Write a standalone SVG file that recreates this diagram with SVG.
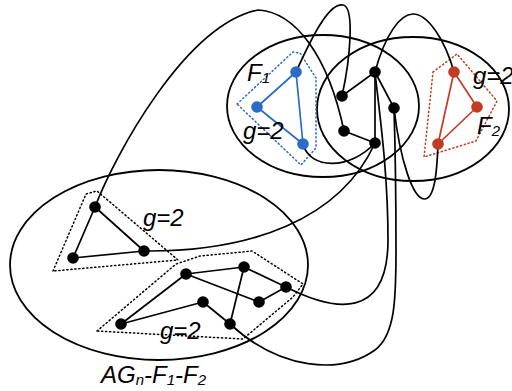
<svg xmlns="http://www.w3.org/2000/svg" width="512" height="391" viewBox="0 0 512 391">
<style>
.region{fill:none;stroke:#000;stroke-width:1.8}
.edge{fill:none;stroke:#000;stroke-width:1.7}
.bedge{fill:none;stroke:#2b6cc4;stroke-width:1.7}
.redge{fill:none;stroke:#c23b22;stroke-width:1.7}
.hull{fill:none;stroke:#000;stroke-width:1.5;stroke-dasharray:1.2 2.8;stroke-linecap:round}
.bhull{fill:none;stroke:#2b6cc4;stroke-width:1.5;stroke-dasharray:1.2 2.8;stroke-linecap:round}
.rhull{fill:none;stroke:#c23b22;stroke-width:1.5;stroke-dasharray:1.2 2.8;stroke-linecap:round}
.n{fill:#000}
.nb{fill:#2b6cc4}
.nr{fill:#c23b22}
.lbl{font-family:"Liberation Sans",Arial,sans-serif;font-style:italic;font-size:24px;fill:#000}
.sub{font-size:15px}
</style>
<rect width="512" height="391" fill="#fff"/>
<g id="regions">
<ellipse id="region-F1" class="region" cx="323" cy="106" rx="96" ry="71"/>
<ellipse id="region-F2" class="region" cx="413" cy="109" rx="96" ry="72"/>
<ellipse id="region-AG" class="region" cx="159" cy="265" rx="149" ry="95"/>
</g>
<g id="hulls">
<polygon class="bhull" points="237,104 293,52 300,53 316,78 316,148 301,165"/>
<polygon class="rhull" points="433,72 457,54 497,101 476,141 424,157"/>
<polygon class="hull" points="53,271 86,194 97,191 178,260"/>
<polygon class="hull" points="97,331 176,264 200,256 252,251 303,284 293,297 243,339"/>
</g>
<g id="connectors">
<line class="bedge" x1="296" y1="72" x2="257" y2="107"/>
<line class="bedge" x1="257" y1="107" x2="303" y2="144"/>
<line class="bedge" x1="296" y1="72" x2="303" y2="144"/>
<line class="redge" x1="454" y1="72" x2="477" y2="107"/>
<line class="redge" x1="477" y1="107" x2="438" y2="144"/>
<line class="redge" x1="454" y1="72" x2="438" y2="144"/>
<line class="edge" x1="375" y1="72" x2="342" y2="96"/>
<line class="edge" x1="375" y1="72" x2="394" y2="108"/>
<line class="edge" x1="375" y1="72" x2="375" y2="143"/>
<line class="edge" x1="344" y1="131" x2="375" y2="143"/>
<line class="edge" x1="95" y1="207" x2="73" y2="258"/>
<line class="edge" x1="95" y1="207" x2="144" y2="251"/>
<line class="edge" x1="73" y1="258" x2="144" y2="251"/>
<line class="edge" x1="121" y1="324" x2="186" y2="274"/>
<line class="edge" x1="186" y1="274" x2="244" y2="267"/>
<line class="edge" x1="244" y1="267" x2="286" y2="287"/>
<line class="edge" x1="286" y1="287" x2="259" y2="302"/>
<line class="edge" x1="259" y1="302" x2="186" y2="274"/>
<line class="edge" x1="121" y1="324" x2="203" y2="302"/>
<line class="edge" x1="203" y1="302" x2="230" y2="324"/>
<line class="edge" x1="230" y1="324" x2="244" y2="267"/>
<path class="edge" d="M95,207 C115,155 185,25 258,10 C295,12 328,55 344,131"/>
<path class="edge" d="M296,72 C315,30 330,3 343,5 C355,7 350,60 342,96"/>
<path class="edge" d="M375,72 C385,35 400,14 413,14 C428,14 445,40 454,72"/>
<path class="edge" d="M394,108 C400,160 413,200 425,199 C435,198 437,170 438,144"/>
<path class="edge" d="M303,144 C310,170 350,170 375,143"/>
<path class="edge" d="M144,251 C250,252 340,220 375,143"/>
<path class="edge" d="M286,287 C335,312 388,320 388,240 C388,170 379,110 375,72"/>
<path class="edge" d="M230,324 C280,370 340,375 375,350 C395,335 396,300 396,250 C396,190 395,140 394,108"/>
</g>
<g id="node-f1a"><circle class="nb" cx="296" cy="72" r="5.8"/></g>
<g id="node-f1b"><circle class="nb" cx="257" cy="107" r="5.8"/></g>
<g id="node-f1c"><circle class="nb" cx="303" cy="144" r="5.8"/></g>
<g id="node-f2a"><circle class="nr" cx="454" cy="72" r="5.8"/></g>
<g id="node-f2b"><circle class="nr" cx="477" cy="107" r="5.8"/></g>
<g id="node-f2c"><circle class="nr" cx="438" cy="144" r="5.8"/></g>
<g id="node-a"><circle class="n" cx="375" cy="72" r="5.8"/></g>
<g id="node-b"><circle class="n" cx="342" cy="96" r="5.8"/></g>
<g id="node-c"><circle class="n" cx="394" cy="108" r="5.8"/></g>
<g id="node-d"><circle class="n" cx="344" cy="131" r="5.8"/></g>
<g id="node-e"><circle class="n" cx="375" cy="143" r="5.8"/></g>
<g id="node-n1"><circle class="n" cx="95" cy="207" r="5.8"/></g>
<g id="node-n2"><circle class="n" cx="73" cy="258" r="5.8"/></g>
<g id="node-n3"><circle class="n" cx="144" cy="251" r="5.8"/></g>
<g id="node-m1"><circle class="n" cx="186" cy="274" r="5.8"/></g>
<g id="node-m2"><circle class="n" cx="244" cy="267" r="5.8"/></g>
<g id="node-m3"><circle class="n" cx="286" cy="287" r="5.8"/></g>
<g id="node-m4"><circle class="n" cx="259" cy="302" r="5.8"/></g>
<g id="node-m5"><circle class="n" cx="203" cy="302" r="5.8"/></g>
<g id="node-m6"><circle class="n" cx="230" cy="324" r="5.8"/></g>
<g id="node-m7"><circle class="n" cx="121" cy="324" r="5.8"/></g>
<g id="labels">
<text class="lbl" x="247" y="81" font-size="22">F<tspan class="sub" dy="2">1</tspan></text>
<text class="lbl" x="243" y="139">g=2</text>
<text class="lbl" x="473" y="84">g=2</text>
<text class="lbl" x="477" y="134" font-size="22">F<tspan class="sub" dy="2">2</tspan></text>
<text class="lbl" x="143" y="226">g=2</text>
<text class="lbl" x="160" y="339">g=2</text>
<text class="lbl" x="101" y="383" font-size="23">AG<tspan class="sub" dy="2">n</tspan><tspan dy="-2">-F</tspan><tspan class="sub" dy="2">1</tspan><tspan dy="-2">-F</tspan><tspan class="sub" dy="2">2</tspan></text>
</g>
</svg>
